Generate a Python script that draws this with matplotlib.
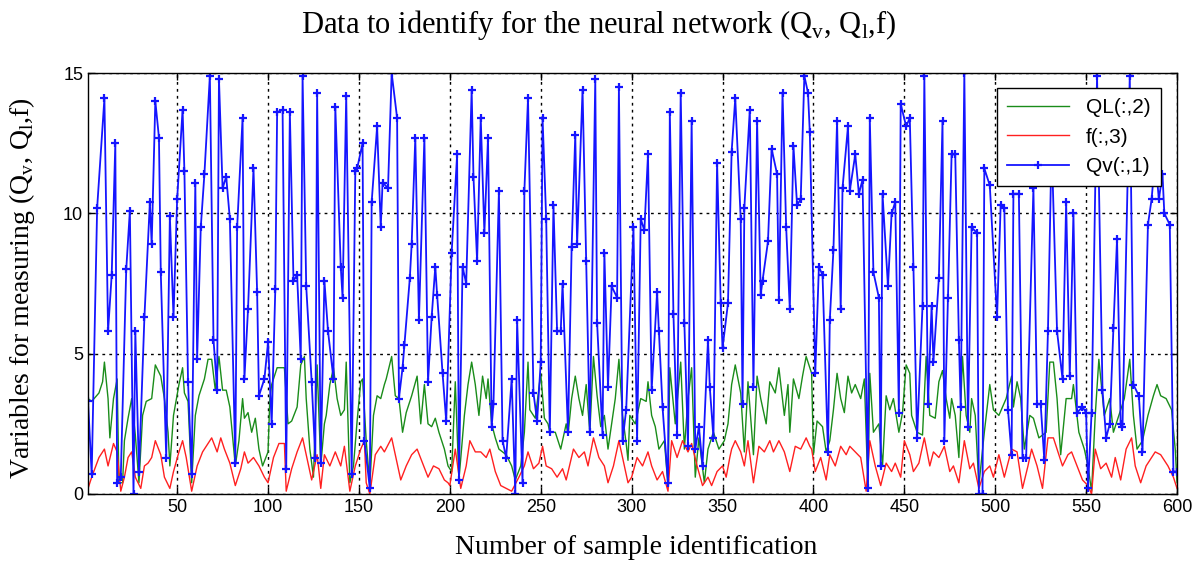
"""Recreate the 'Data to identify for the neural network' figure (Qv, QL, f)."""

import matplotlib

matplotlib.use("Agg")  # headless
import matplotlib.pyplot as plt

# --- Data --------------------------------------------------------------------
# Qv(:,1): sample index and value at each visible '+' marker.
qv_x = [
    1, 3, 6, 10, 12, 14, 16, 17, 19, 22, 24, 26, 27, 29, 32, 35, 36, 38, 40, 41,
    44, 46, 48, 50, 53, 54, 56, 58, 60, 61, 63, 65, 68, 70, 72, 73, 75, 77, 79, 82,
    83, 86, 87, 89, 92, 94, 95, 98, 100, 102, 104, 105, 108, 110, 112, 114, 116, 118, 119, 121,
    124, 126, 127, 129, 131, 133, 136, 137, 140, 141, 143, 146, 148, 149, 152, 153, 156, 157, 160, 162,
    163, 166, 168, 171, 172, 174, 175, 178, 179, 181, 183, 186, 188, 190, 192, 193, 196, 198, 201, 204,
    205, 207, 209, 212, 213, 215, 217, 219, 221, 223, 224, 227, 229, 231, 234, 236, 237, 240, 241, 243,
    246, 248, 250, 251, 253, 255, 257, 259, 261, 262, 265, 267, 269, 270, 273, 275, 277, 280, 281, 284,
    285, 287, 289, 292, 293, 295, 297, 301, 303, 305, 307, 309, 311, 314, 315, 317, 320, 321, 323, 325,
    327, 329, 331, 333, 335, 337, 339, 342, 343, 345, 347, 349, 350, 353, 355, 357, 360, 361, 362, 365,
    367, 369, 371, 372, 375, 377, 380, 381, 383, 385, 387, 389, 391, 393, 395, 397, 398, 401, 403, 405,
    408, 409, 411, 413, 415, 416, 419, 420, 423, 425, 427, 430, 431, 433, 436, 437, 438, 441, 443, 445,
    447, 448, 451, 453, 455, 457, 460, 461, 463, 465, 466, 469, 471, 472, 474, 476, 478, 480, 481, 483,
    485, 487, 490, 491, 493, 494, 497, 501, 503, 505, 507, 509, 510, 513, 515, 517, 521, 523, 525, 527,
    529, 531, 534, 537, 539, 541, 543, 545, 548, 550, 551, 553, 556, 559, 561, 563, 565, 567, 569, 570,
    574, 576, 579, 581, 584, 586, 588, 590, 592, 593, 596, 598, 600,
]
qv_y = [
    3.3, 0.7, 10.2, 14.1, 5.8, 7.8, 12.5, 0.4, 0.6, 8.0, 10.1, 0.0, 5.8, 0.8, 6.3, 10.4, 8.9, 14.0, 12.7, 7.9,
    1.3, 9.9, 6.3, 10.5, 13.7, 11.5, 4.0, 0.7, 11.1, 4.8, 9.5, 11.4, 14.9, 5.5, 3.7, 14.8, 10.9, 11.3, 9.8, 1.1,
    9.5, 13.4, 4.1, 6.6, 11.6, 7.2, 3.5, 4.1, 5.4, 2.5, 7.3, 13.6, 13.7, 0.9, 13.6, 7.6, 7.8, 4.8, 14.9, 7.4,
    4.0, 1.3, 14.3, 1.1, 7.6, 5.8, 4.1, 13.8, 8.1, 7.0, 14.2, 0.7, 11.5, 11.6, 12.5, 1.9, 0.2, 10.4, 13.1, 9.5,
    11.1, 10.9, 15.0, 13.4, 3.4, 4.5, 5.3, 7.7, 8.9, 12.7, 6.2, 12.7, 4.0, 6.3, 8.1, 7.1, 4.3, 2.6, 8.6, 12.1,
    0.5, 8.1, 7.5, 14.4, 11.3, 8.3, 13.4, 9.3, 12.7, 2.4, 3.2, 10.8, 1.9, 1.3, 4.1, 0.0, 6.2, 0.4, 10.8, 14.1,
    3.6, 2.6, 4.7, 13.4, 9.8, 2.2, 10.3, 5.8, 5.8, 7.5, 2.2, 8.8, 12.8, 8.9, 14.4, 8.3, 2.2, 14.8, 6.1, 2.1,
    8.6, 3.8, 7.4, 7.0, 14.5, 1.9, 3.0, 9.5, 1.9, 9.8, 9.4, 12.1, 3.7, 7.2, 5.8, 3.1, 0.4, 13.6, 6.4, 2.1,
    14.3, 6.1, 1.7, 13.3, 1.6, 2.4, 1.0, 5.5, 3.8, 2.0, 11.8, 6.8, 5.2, 6.8, 12.2, 14.1, 9.8, 3.2, 10.2, 13.7,
    3.8, 13.3, 7.1, 7.6, 9.0, 12.3, 11.4, 6.9, 14.3, 9.5, 6.6, 12.4, 10.3, 10.5, 14.9, 14.3, 12.9, 4.3, 8.1, 7.8,
    1.5, 6.2, 8.7, 13.3, 6.6, 10.9, 13.1, 10.8, 12.1, 10.7, 11.2, 0.2, 13.4, 7.9, 7.0, 1.0, 10.7, 7.4, 10.0, 10.4,
    2.9, 13.9, 13.1, 13.4, 8.1, 2.0, 6.7, 14.9, 3.2, 6.7, 4.7, 7.7, 13.3, 1.9, 7.0, 12.1, 12.1, 5.5, 3.1, 15.0,
    2.4, 9.5, 9.3, 0.0, 0.0, 11.6, 11.0, 6.3, 10.3, 10.2, 3.0, 1.4, 10.7, 10.7, 1.3, 1.3, 10.9, 3.2, 3.2, 1.2,
    5.8, 12.5, 5.8, 4.1, 10.4, 4.2, 10.0, 2.9, 3.1, 2.9, 0.2, 2.9, 14.9, 3.7, 2.0, 2.5, 5.9, 9.1, 2.5, 2.4,
    14.9, 3.9, 3.5, 1.5, 9.6, 10.5, 12.0, 10.5, 11.4, 10.0, 9.6, 0.8, 0.8,
]

# QL(:,2)
ql_x = [
    1, 3, 7, 9, 10, 12, 13, 15, 17, 18, 20, 21, 23, 25, 27, 29, 31, 33, 36, 38,
    41, 43, 45, 46, 48, 51, 53, 54, 56, 58, 60, 62, 65, 67, 69, 71, 73, 75, 77, 79,
    82, 84, 86, 87, 89, 91, 93, 95, 97, 100, 101, 102, 105, 108, 109, 111, 113, 116, 118, 120,
    121, 123, 125, 127, 129, 131, 132, 134, 136, 138, 140, 142, 143, 145, 147, 149, 151, 152, 154, 156,
    158, 160, 162, 164, 165, 168, 170, 172, 174, 176, 179, 182, 184, 186, 188, 190, 192, 194, 197, 199,
    201, 203, 205, 208, 210, 212, 214, 216, 218, 220, 221, 223, 225, 227, 229, 231, 234, 236, 239, 241,
    243, 244, 247, 250, 252, 254, 255, 258, 261, 264, 265, 267, 269, 271, 273, 275, 277, 279, 281, 283,
    285, 287, 289, 291, 293, 295, 297, 298, 299, 302, 305, 308, 309, 311, 313, 315, 318, 320, 321, 324,
    327, 329, 331, 333, 335, 337, 340, 342, 345, 348, 351, 353, 355, 357, 360, 362, 364, 367, 369, 371,
    374, 376, 379, 381, 384, 386, 387, 389, 392, 394, 396, 397, 399, 400, 402, 405, 407, 409, 411, 413,
    415, 417, 419, 421, 423, 426, 428, 430, 431, 433, 436, 438, 440, 442, 444, 447, 449, 451, 453, 454,
    457, 460, 462, 464, 467, 469, 471, 473, 475, 476, 478, 480, 482, 484, 486, 487, 489, 491, 494, 497,
    499, 502, 506, 509, 510, 512, 514, 516, 519, 521, 524, 528, 530, 532, 534, 536, 539, 542, 543, 546,
    549, 551, 553, 555, 557, 560, 563, 565, 568, 571, 574, 576, 578, 581, 584, 587, 589, 591, 594, 597,
    599, 600,
]
ql_y = [
    3.4, 3.3, 3.6, 4.0, 4.7, 3.4, 2.0, 3.4, 4.1, 0.4, 0.4, 1.9, 2.7, 3.4, 2.1, 0.4, 2.8, 3.3, 3.4, 4.6,
    4.2, 3.4, 2.2, 1.0, 2.8, 3.9, 4.5, 3.6, 3.3, 0.4, 2.8, 3.5, 4.1, 4.8, 4.8, 3.7, 4.9, 3.7, 3.7, 3.1,
    1.0, 1.9, 3.4, 2.7, 2.9, 2.2, 2.7, 1.6, 1.0, 1.5, 3.4, 3.9, 4.5, 4.5, 4.5, 2.5, 2.6, 3.1, 4.6, 4.9,
    3.4, 1.6, 0.6, 4.6, 1.0, 2.5, 2.8, 3.9, 4.5, 3.4, 2.8, 3.0, 4.7, 0.4, 1.0, 2.6, 4.0, 4.1, 1.9, 0.3,
    2.8, 3.5, 3.4, 3.9, 4.1, 4.9, 3.5, 3.4, 2.2, 2.9, 3.5, 4.2, 2.5, 3.9, 2.5, 2.4, 2.7, 2.2, 1.6, 1.0,
    0.8, 4.0, 0.5, 2.8, 3.9, 4.7, 3.9, 2.8, 4.2, 3.4, 4.1, 2.5, 2.0, 1.6, 1.5, 1.4, 1.0, 0.5, 1.0, 2.2,
    4.7, 3.0, 2.7, 4.3, 2.7, 2.5, 2.2, 2.2, 1.6, 2.5, 2.1, 3.4, 4.2, 3.4, 2.8, 3.9, 2.2, 4.9, 3.5, 2.4,
    2.8, 1.6, 2.5, 3.4, 4.8, 2.8, 1.8, 1.2, 2.8, 2.5, 3.4, 3.3, 4.0, 2.8, 2.4, 1.6, 1.9, 0.3, 4.5, 2.5,
    4.7, 1.6, 3.4, 4.5, 0.6, 2.0, 0.4, 1.6, 2.2, 1.6, 1.9, 2.5, 3.9, 4.6, 3.6, 1.5, 4.0, 1.4, 4.2, 3.4,
    2.5, 4.0, 3.6, 4.5, 2.8, 3.9, 2.2, 4.1, 3.4, 4.2, 4.9, 4.7, 4.3, 1.4, 2.6, 2.4, 1.5, 1.9, 3.0, 4.3,
    3.4, 2.9, 4.2, 3.6, 3.9, 3.4, 4.1, 0.2, 4.3, 2.2, 2.5, 1.0, 3.5, 3.0, 3.4, 2.2, 2.9, 4.6, 4.3, 2.8,
    2.2, 2.1, 4.9, 2.8, 2.7, 4.0, 4.4, 3.4, 2.7, 3.4, 2.8, 1.3, 4.9, 2.8, 2.2, 3.4, 2.8, 0.3, 2.2, 3.9,
    3.0, 2.8, 3.4, 4.2, 3.1, 4.0, 3.4, 1.6, 2.8, 2.7, 2.0, 2.2, 4.7, 4.7, 3.4, 1.4, 3.4, 3.4, 3.9, 2.2,
    1.6, 1.0, 0.1, 2.8, 4.8, 2.8, 3.4, 2.2, 2.8, 3.4, 4.8, 2.8, 1.6, 1.9, 2.8, 3.5, 3.9, 3.5, 3.4, 3.0,
    1.6, 0.4,
]

# f(:,3)
f_x = [
    1, 3, 7, 10, 12, 15, 17, 19, 21, 23, 25, 27, 30, 32, 34, 36, 38, 41, 43, 46,
    48, 51, 53, 55, 58, 61, 64, 66, 69, 72, 74, 76, 79, 82, 85, 87, 89, 92, 95, 98,
    100, 103, 106, 109, 110, 113, 116, 119, 121, 124, 127, 129, 131, 134, 137, 140, 142, 145, 148, 151,
    153, 154, 156, 159, 162, 164, 168, 170, 173, 176, 179, 182, 185, 188, 191, 194, 197, 199, 200, 203,
    206, 209, 211, 214, 217, 220, 222, 225, 228, 231, 234, 238, 241, 243, 246, 249, 251, 253, 256, 259,
    262, 264, 268, 271, 274, 276, 279, 282, 285, 287, 290, 293, 296, 298, 300, 303, 306, 309, 311, 314,
    317, 320, 322, 325, 328, 331, 333, 336, 339, 342, 344, 347, 350, 352, 354, 355, 357, 360, 362, 364,
    367, 370, 373, 376, 378, 381, 384, 387, 390, 393, 396, 398, 399, 401, 404, 407, 409, 412, 415, 418,
    420, 423, 426, 429, 431, 434, 437, 440, 443, 445, 448, 450, 453, 455, 458, 461, 464, 466, 469, 472,
    475, 477, 480, 483, 486, 488, 491, 494, 497, 499, 502, 505, 509, 512, 515, 518, 520, 523, 526, 529,
    532, 534, 537, 540, 542, 545, 548, 551, 553, 555, 558, 561, 564, 566, 569, 572, 575, 577, 580, 583,
    586, 588, 591, 595, 598, 600,
]
f_y = [
    0.2, 0.6, 1.3, 1.6, 1.0, 1.8, 1.5, 0.1, 0.6, 1.3, 1.5, 0.6, 0.2, 1.0, 1.1, 1.3, 1.9, 1.4, 0.6, 0.2,
    0.8, 1.5, 1.9, 1.3, 0.1, 1.0, 1.5, 1.7, 2.0, 1.5, 2.0, 1.6, 1.1, 0.3, 0.9, 1.5, 1.1, 1.3, 1.0, 0.6,
    0.4, 1.3, 1.8, 1.8, 0.1, 0.9, 1.5, 2.0, 1.4, 0.5, 1.4, 0.2, 1.4, 1.0, 1.5, 1.0, 1.7, 0.1, 1.0, 1.6,
    1.9, 0.4, 0.0, 1.4, 1.7, 1.5, 2.0, 1.4, 0.5, 1.0, 1.4, 1.6, 1.1, 0.6, 1.0, 0.9, 0.5, 0.4, 0.3, 1.6,
    0.2, 1.0, 1.9, 1.5, 1.5, 1.3, 1.6, 0.8, 0.3, 0.2, 0.1, 0.6, 1.0, 1.5, 0.9, 1.1, 1.7, 1.0, 0.9, 0.6,
    0.9, 0.5, 1.6, 1.3, 1.5, 1.0, 2.0, 1.3, 1.0, 0.4, 1.0, 1.9, 1.0, 0.4, 0.6, 1.3, 1.0, 1.5, 1.0, 0.5,
    0.8, 0.1, 1.9, 1.3, 1.9, 1.5, 1.8, 1.0, 0.3, 0.6, 0.3, 0.8, 1.0, 0.6, 1.3, 1.6, 1.9, 1.5, 1.0, 1.9,
    0.4, 1.7, 1.5, 1.9, 1.5, 1.9, 1.5, 0.8, 1.7, 1.6, 2.0, 1.7, 1.6, 0.8, 1.3, 0.5, 1.4, 1.0, 1.7, 1.4,
    1.7, 1.5, 1.3, 0.1, 1.9, 1.0, 0.3, 1.1, 0.8, 1.1, 0.6, 1.9, 1.4, 0.8, 1.1, 2.0, 1.0, 1.5, 1.3, 1.7,
    0.8, 1.0, 0.4, 1.9, 0.9, 1.1, 0.2, 0.8, 1.0, 0.6, 1.4, 0.6, 1.6, 1.5, 0.2, 1.0, 1.6, 1.0, 0.2, 2.0,
    2.0, 1.6, 1.0, 1.4, 1.5, 1.0, 0.5, 0.3, 0.0, 1.6, 0.9, 1.1, 0.6, 1.3, 0.5, 1.6, 2.0, 1.0, 0.4, 1.0,
    1.3, 1.5, 1.4, 1.0, 0.6, 0.2,
]

x_ticks = [50, 100, 150, 200, 250, 300, 350, 400, 450, 500, 550, 600]
y_ticks = [0, 5, 10, 15]

TITLE = r"Data to identify for the neural network (Q$_\mathregular{v}$, Q$_\mathregular{l}$,f)"
XLABEL = "Number of sample identification"
YLABEL = r"Variables for measuring (Q$_\mathregular{v}$, Q$_\mathregular{l}$,f)"


def main() -> int:
    plt.rcParams["font.family"] = ["Liberation Sans", "DejaVu Sans"]
    serif = ["Liberation Serif", "DejaVu Serif"]

    fig = plt.figure(figsize=(11.98, 5.62), dpi=100)
    ax = fig.add_axes([0.0735, 0.121, 0.909, 0.749])

    ax.plot(ql_x, ql_y, "-", color="#1a8c1a", lw=1.0, label="QL(:,2)")
    ax.plot(f_x, f_y, "-", color="#ff2020", lw=1.0, label="f(:,3)")
    ax.plot(qv_x, qv_y, "-+", color="#1515ff", lw=1.3, ms=6, mew=1.6, label="Qv(:,1)")

    ax.set_xlim(1, 600)
    ax.set_ylim(0, 15)
    ax.set_xticks(x_ticks)
    ax.set_yticks(y_ticks)
    ax.tick_params(direction="in", top=True, right=True, labelsize=13, length=5, width=1)
    ax.grid(True, color="black", linestyle=(0, (2, 3)), linewidth=1.0)
    for sp in ax.spines.values():
        sp.set_linewidth(1.0)

    leg = ax.legend(loc="upper right", bbox_to_anchor=(0.995, 0.99), fontsize=15,
                    frameon=True, fancybox=False, framealpha=1, edgecolor="black",
                    handlelength=3.0, borderpad=0.5, labelspacing=0.5)
    leg.get_frame().set_linewidth(1.0)

    fig.text(0.5, 0.955, TITLE, ha="center", va="center", fontsize=22, family=serif)
    fig.text(0.531, 0.025, XLABEL, ha="center", va="center", fontsize=20, family=serif)
    fig.text(0.018, 0.487, YLABEL, ha="center", va="center", rotation=90, fontsize=20, family=serif)

    fig.savefig("out.png", dpi=100)
    return 0


if __name__ == "__main__":
    raise SystemExit(main())
